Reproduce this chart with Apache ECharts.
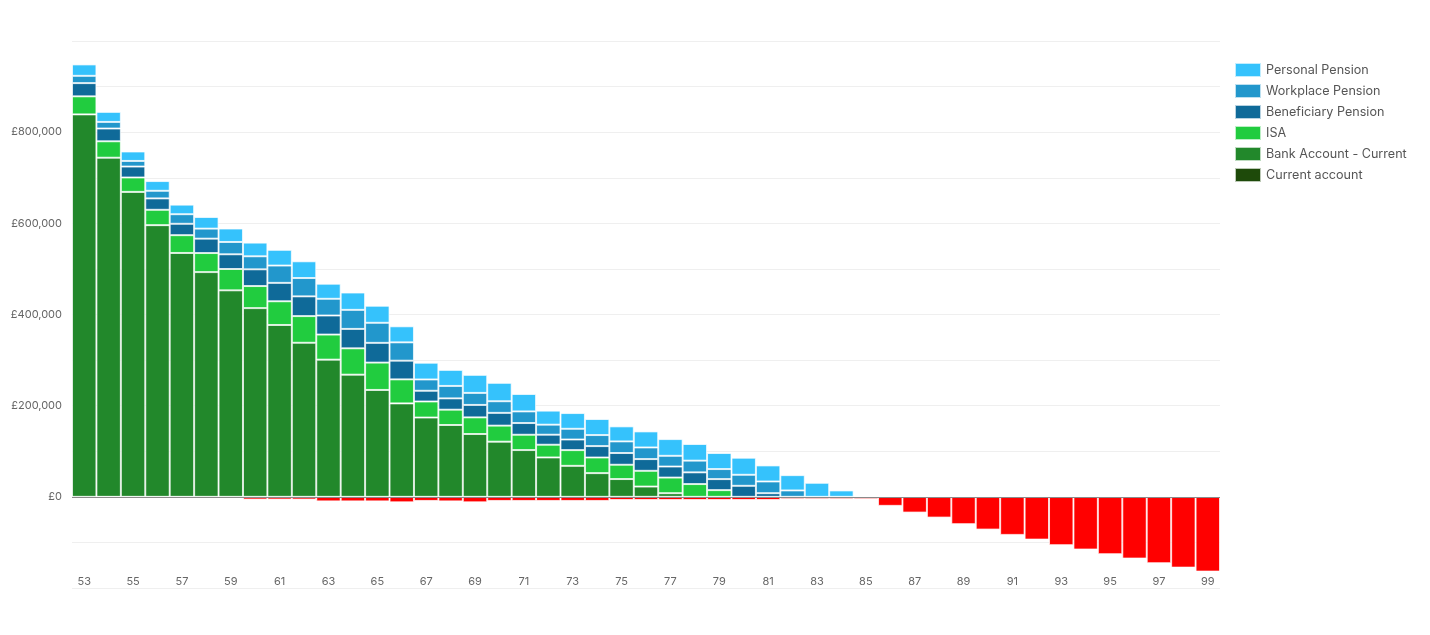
<!DOCTYPE html>
<html lang="en">
<head>
    <meta charset="UTF-8">
    <title>Pot balances by age</title>
    <style>
        html, body {margin: 0; padding: 0; background: #fff;}
        #main {width: 1430px; height: 635px;}
    </style>
</head>
<body>
<div id="main"></div>
<script src="https://cdn.jsdelivr.net/npm/echarts@6/dist/echarts.min.js"></script>
<script>
    // ages 53 .. 99
    const ages = []
    for (let a = 53; a <= 99; a++) ages.push(String(a))

    const personalPension = [25000, 22000, 20700, 21300, 21000, 25500, 29500, 30000, 34500, 36700,
        33000, 38000, 37400, 35200, 36700, 35200, 39600, 40400, 38200, 30800,
        34500, 35200, 33000, 35200, 36700, 36500, 35200, 37400, 35200, 33600,
        30800, 14000, 0, 0, 0, 0, 0, 0, 0, 0, 0, 0, 0, 0, 0, 0, 0]
    const workplacePension = [16000, 14500, 12300, 16700, 21000, 22000, 27000, 28600, 38000, 40200,
        36700, 41800, 44000, 40200, 24800, 27300, 26400, 25500, 25500, 22000,
        23500, 24200, 25500, 25500, 23500, 25700, 22000, 24200, 25700, 14000,
        0, 0, 0, 0, 0, 0, 0, 0, 0, 0, 0, 0, 0, 0, 0, 0, 0]
    const beneficiaryPension = [29000, 28000, 24000, 25000, 25000, 31600, 32300, 36700, 40400, 43300,
        41800, 42600, 43300, 41000, 23500, 24800, 27300, 28000, 25700, 22000,
        23300, 25000, 25700, 25700, 24200, 25700, 24200, 24200, 8000, 0,
        0, 0, 0, 0, 0, 0, 0, 0, 0, 0, 0, 0, 0, 0, 0, 0, 0]
    const isa = [39600, 36000, 31600, 33700, 39000, 41800, 46800, 48400, 52000, 58500,
        55000, 57800, 60000, 52700, 35200, 33600, 36500, 35200, 33600, 27900,
        34500, 34300, 31400, 34500, 34300, 28000, 14700, 0, 0, 0,
        0, 0, 0, 0, 0, 0, 0, 0, 0, 0, 0, 0, 0, 0, 0, 0, 0]
    const bankCurrent = [839000, 744000, 669000, 596000, 535000, 493000, 453000, 414000, 377000, 338000,
        301000, 268000, 234500, 205000, 174000, 157600, 137800, 121000, 102600, 86400,
        68000, 52000, 39000, 22600, 8000, 0, 0, 0, 0, 0,
        0, 0, 0, 0, 0, 0, 0, 0, 0, 0, 0, 0, 0, 0, 0, 0, 0]
    const currentAccount = [0, -1000, -1500, -1500, -1500, -3000, -3000, -6000, -6000, -6000,
        -10000, -10000, -10000, -12000, -9000, -10000, -12000, -9000, -9000, -9000,
        -9000, -9000, -7000, -7000, -7000, -7000, -7000, -7000, -7000, -5000,
        -5000, -5000, -5000, -19800, -34500, -45500, -60000, -71800, -83500, -93800,
        -106000, -115600, -125800, -135400, -145600, -155300, -164000]

    const seriesNames = ['Personal Pension', 'Workplace Pension', 'Beneficiary Pension', 'ISA', 'Bank Account - Current', 'Current account']
    const seriesColors = ['#35c2fc', '#2297cc', '#0f6a99', '#21cc3f', '#22882b', '#1e4a0a']

    // zero-height bars would leave a white border line, so drop them
    function clean(arr) {
        return arr.map(v => v === 0 ? '-' : v)
    }

    function barSeries(name, color, data) {
        return {
            name: name,
            type: 'bar',
            stack: 'total',
            barCategoryGap: 0,
            itemStyle: {
                color: color,
                borderColor: 'rgba(255,255,255,0.7)',
                borderWidth: 1
            },
            emphasis: {disabled: true},
            data: data
        }
    }

    // draw from the bottom up: bank, ISA, beneficiary, workplace, personal
    const series = [
        barSeries(seriesNames[4], seriesColors[4], clean(bankCurrent)),
        barSeries(seriesNames[3], seriesColors[3], clean(isa)),
        barSeries(seriesNames[2], seriesColors[2], clean(beneficiaryPension)),
        barSeries(seriesNames[1], seriesColors[1], clean(workplacePension)),
        barSeries(seriesNames[0], seriesColors[0], clean(personalPension))
    ]

    // overdrawn current account shows in red below zero
    let current = barSeries(seriesNames[5], seriesColors[5],
        currentAccount.map(v => v === 0 ? '-' : {value: v, itemStyle: {color: v < 0 ? '#ff0000' : seriesColors[5]}}))
    current.markLine = {
        silent: true,
        symbol: 'none',
        label: {show: false},
        lineStyle: {color: '#8a8a8a', type: 'solid', width: 1},
        data: [{yAxis: 0}]
    }
    series.push(current)

    let chart = echarts.init(document.getElementById('main'))
    let option = {
        animation: false,
        textStyle: {fontFamily: 'Inter, "Noto Sans", sans-serif'},
        grid: {left: 72, right: 210, top: 41, bottom: 47},
        legend: {
            orient: 'vertical',
            left: 1229,
            top: 57,
            itemWidth: 26,
            itemHeight: 14,
            itemGap: 5,
            icon: 'rect',
            data: seriesNames,
            textStyle: {color: '#555', fontSize: 12.6}
        },
        xAxis: {
            type: 'category',
            data: ages,
            axisLine: {show: false},
            axisTick: {show: false},
            axisLabel: {
                inside: true,
                margin: 1,
                interval: 1,
                color: '#666',
                fontSize: 11
            }
        },
        yAxis: {
            type: 'value',
            min: -200000,
            max: 1000000,
            interval: 100000,
            axisLine: {show: false},
            axisTick: {show: false},
            splitLine: {lineStyle: {color: '#efefef'}},
            axisLabel: {
                margin: 10,
                color: '#666',
                fontSize: 11,
                showMinLabel: false,
                showMaxLabel: false,
                formatter: function (v) {
                    if (v < 0 || v % 200000 !== 0) return ''
                    return '£' + v.toLocaleString('en-GB')
                }
            }
        },
        series: series
    }
    chart.setOption(option)
</script>
</body>
</html>
